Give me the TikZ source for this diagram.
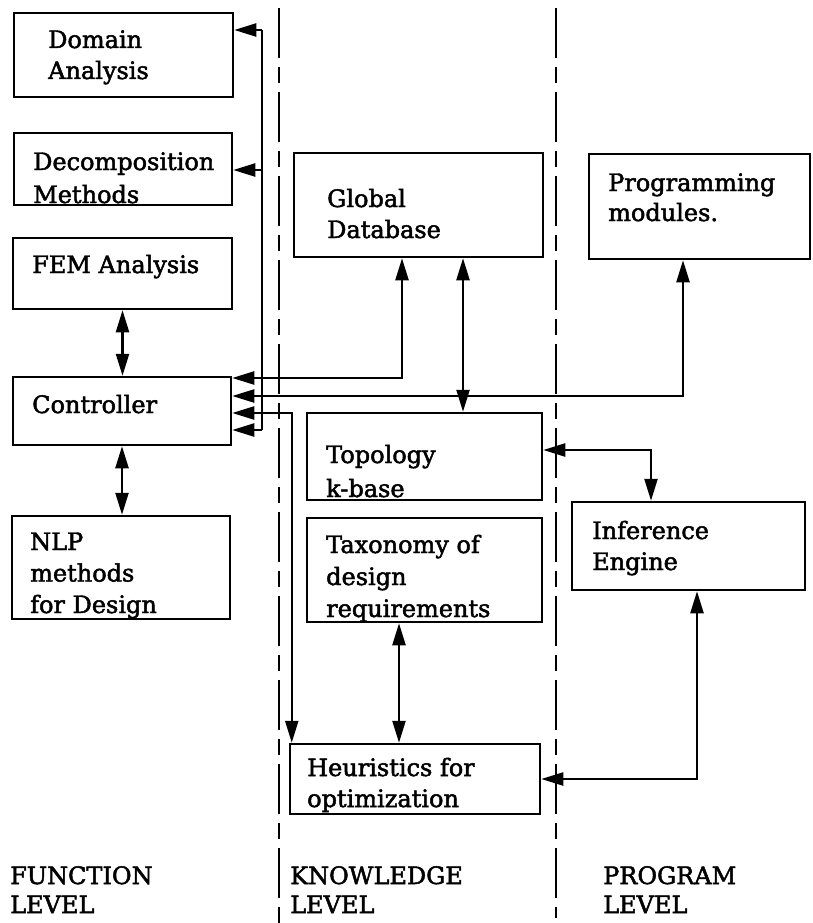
\documentclass[tikz,border=0pt]{standalone}
\usepackage{fontspec}
\setmainfont{DejaVu Serif}[FakeBold=2]
\usetikzlibrary{arrows.meta}

% stacked left-aligned lines; the baseline is that of the first line
\newcommand\linesof[2][31pt]{\vtop{\baselineskip=#1\lineskiplimit=-100pt\lineskip=0pt\halign{##\hfil\cr#2\crcr}}}

% a box given by its corners (x1,y1) and (x2,y2)
\newcommand\panel[5]{\node[box, minimum width={(#4-#2)*1pt}, minimum height={(#5-#3)*1pt}] (#1) at ({(#2+#4)/2},{(#3+#5)/2}) {};}

\tikzset{
  box/.style={draw, line width=2.5pt, inner sep=0pt},
  txt/.style={anchor=base west, inner sep=0pt, font=\fontsize{24pt}{31pt}\selectfont},
  arr/.style={line width=2.3pt, -{Triangle[length=22pt,width=13pt]}},
  dbl/.style={line width=2.3pt, {Triangle[length=22pt,width=13pt]}-{Triangle[length=22pt,width=13pt]}},
  wire/.style={line width=2.3pt},
  divider/.style={line width=2.6pt, dash pattern=on 50pt off 9pt on 16pt off 9pt}
}

\begin{document}
\begin{tikzpicture}[x=1pt,y=-1pt]
\fill[white] (0,0) rectangle (813,923);
\useasboundingbox (0,0) rectangle (813,923);

% level dividers
\draw[divider] (279,8) -- (279,923);
\draw[divider] (556,8) -- (556,918);

% function level
\panel{dom}{14}{13}{233}{97}
\panel{dec}{14}{133}{232}{205}
\panel{fem}{13}{238}{232}{309}
\panel{ctl}{13}{377}{231}{445}
\panel{nlp}{12}{516}{230}{619}
% knowledge level
\panel{gdb}{294}{153}{543}{257}
\panel{top}{307}{413}{542}{500}
\panel{tax}{307}{518}{542}{622}
\panel{heu}{290}{744}{540}{814}
% program level
\panel{prg}{589}{154}{810}{259}
\panel{inf}{572}{502}{805}{590}

% texts
\node[txt] (domT) at (48,48) {\linesof{Domain\cr Analysis}};
\node[txt] (decT) at (33,170) {\linesof[33pt]{Decomposition\cr Methods}};
\node[txt] (femT) at (32,273) {FEM Analysis};
\node[txt] (ctlT) at (32,413) {Controller};
\node[txt] (nlpT) at (30,550) {\linesof[31.5pt]{NLP\cr methods\cr for Design}};
\node[txt] (gdbT) at (327,207) {\linesof{Global\cr Database}};
\node[txt] (topT) at (326,463) {\linesof[34pt]{Topology\cr k-base}};
\node[txt] (taxT) at (326,553) {\linesof[32pt]{Taxonomy of\cr design\cr requirements}};
\node[txt] (heuT) at (307,776) {\linesof{Heuristics for\cr optimization}};
\node[txt] (prgT) at (608,191) {\linesof[30pt]{Programming\cr modules.}};
\node[txt] (infT) at (592,539) {\linesof{Inference\cr Engine}};

\node[txt] (fnL) at (10,884) {\linesof[29pt]{FUNCTION\cr LEVEL}};
\node[txt] (knL) at (290,884) {\linesof[29pt]{KNOWLEDGE\cr LEVEL}};
\node[txt] (pgL) at (603,884) {\linesof[29pt]{PROGRAM\cr LEVEL}};

% controller bus
\coordinate (busTop) at (262,30);
\coordinate (busDec) at (262,170);
\coordinate (busBot) at (262,430);
\draw[wire] (busBot) -- (busTop);
\draw[arr] (busTop) -- (dom.east |- busTop);
\draw[arr] (busDec) -- (dec.east |- busDec);
\draw[arr] (busBot) -- (ctl.east |- busBot);

% controller links
\draw[dbl] (ctl.east |- 0,378) -| ([xshift=-16.5pt]gdb.south);
\draw[dbl] (ctl.east |- 0,396) -| ([xshift=-16.5pt]prg.south);
\draw[dbl] (ctl.east |- 0,413) -| ([xshift=3pt]heu.north west);
\draw[dbl] (fem.south) -- (fem.south |- ctl.north);
\draw[dbl] (ctl.south) -- (ctl.south |- nlp.north);

% knowledge and program links
\draw[dbl] ([xshift=44.5pt]gdb.south) -- ([xshift=44.5pt]gdb.south |- top.north);
\draw[dbl] (top.east |- 0,450) -| ([xshift=-37.5pt]inf.north);
\draw[dbl] ([xshift=-25.5pt]tax.south) -- ([xshift=-25.5pt]tax.south |- heu.north);
\draw[dbl] ([xshift=8.5pt]inf.south) |- (heu.east);
\end{tikzpicture}
\end{document}
